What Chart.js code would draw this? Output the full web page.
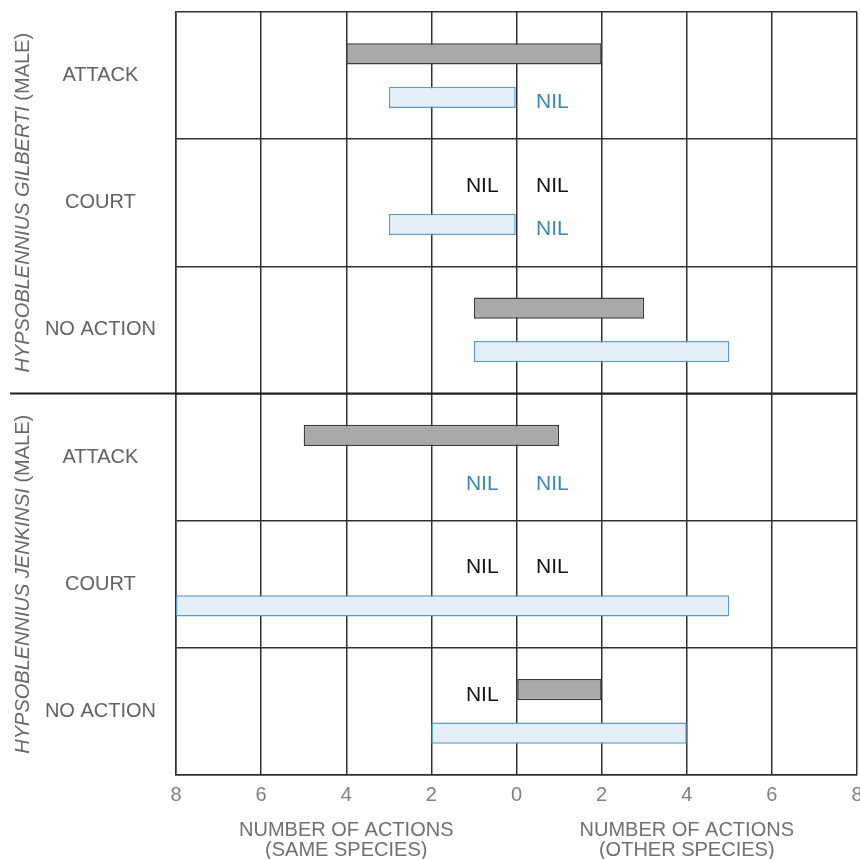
<!DOCTYPE html>
<html>
<head>
<meta charset="utf-8">
<script src="https://cdn.jsdelivr.net/npm/chart.js@4/dist/chart.umd.min.js"></script>
<style>
  html, body { margin: 0; padding: 0; background: #fff; }
  canvas { display: block; }
</style>
</head>
<body>
<canvas id="chart" width="860" height="859"></canvas>
<script>
// Behaviour rows, top to bottom (three per species)
const behaviours = ['ATTACK', 'COURT', 'NO ACTION', 'ATTACK', 'COURT', 'NO ACTION'];
const speciesNames = ['HYPSOBLENNIUS GILBERTI', 'HYPSOBLENNIUS JENKINSI'];
const sexLabel = '(MALE)';

// Grey bars: counts toward same species (left) and other species (right)
const darkSame  = [4, 0, 1, 5, 0, 0];
const darkOther = [2, 0, 3, 1, 0, 2];
// Blue bars
const lightSame  = [3, 3, 1, 0, 8, 2];
const lightOther = [0, 0, 5, 0, 5, 4];

const xMin = -8, xMax = 8, xStep = 2;
const axisTitles = [
  { at: -4, lines: ['NUMBER OF ACTIONS', '(SAME SPECIES)'] },
  { at: 4,  lines: ['NUMBER OF ACTIONS', '(OTHER SPECIES)'] }
];

const CAT_PCT = 0.682;
const BAR_PCT = 0.49;
const FONT = "'Liberation Sans', Arial, sans-serif";

const toRange = (same, other) => same.map((s, i) =>
  (s === 0 && other[i] === 0) ? null : [-s, other[i]]);

const series = [
  { same: darkSame,  other: darkOther,  fill: '#a9a9a9', border: '#3c3c3c', nil: '#111111' },
  { same: lightSame, other: lightOther, fill: '#e3eef8', border: '#5a9cc6', nil: '#3b87b2' }
];

// Fixed box sizes so the plot frame lands where intended
function fixY(scale) { scale.width = 176; scale.paddingTop = 0; scale.paddingBottom = 0; }
function fixX(scale) { scale.height = 84; scale.paddingLeft = 0; scale.paddingRight = 0; }

const annotations = {
  id: 'annotations',
  afterDatasetsDraw(chart) {
    const { ctx, scales: { x, y }, chartArea } = chart;
    ctx.save();

    // Heavy rule separating the two species
    const yDiv = y.getPixelForValue(2.5);
    ctx.strokeStyle = '#1e1e1e';
    ctx.lineWidth = 2.2;
    ctx.beginPath();
    ctx.moveTo(10, yDiv);
    ctx.lineTo(chartArea.right, yDiv);
    ctx.stroke();

    // "NIL" markers where a count is zero
    const step = y.getPixelForValue(1) - y.getPixelForValue(0);
    const off = step * CAT_PCT / 4;
    ctx.font = '21px ' + FONT;
    ctx.textBaseline = 'middle';
    series.forEach((s, d) => {
      s.same.forEach((v, i) => {
        const cy = y.getPixelForValue(i) + (d === 0 ? -off : off) + 5;
        ctx.fillStyle = s.nil;
        if (v === 0) {
          ctx.textAlign = 'right';
          ctx.fillText('NIL', x.getPixelForValue(-0.42), cy);
        }
        if (s.other[i] === 0) {
          ctx.textAlign = 'left';
          ctx.fillText('NIL', x.getPixelForValue(0.46), cy);
        }
      });
    });

    // Axis titles under each half
    ctx.fillStyle = '#707070';
    ctx.font = '20px ' + FONT;
    ctx.textAlign = 'center';
    axisTitles.forEach(t => {
      t.lines.forEach((line, k) => {
        ctx.fillText(line, x.getPixelForValue(t.at), 830 + k * 20);
      });
    });

    // Rotated species labels (italic name + upright sex)
    speciesNames.forEach((name, g) => {
      const cy = y.getPixelForValue(g * 3 + 1);
      ctx.save();
      ctx.translate(23, cy);
      ctx.rotate(-Math.PI / 2);
      ctx.textAlign = 'left';
      ctx.fillStyle = '#686868';
      ctx.font = 'italic 20px ' + FONT;
      const nameTxt = name + ' ';
      const w1 = ctx.measureText(nameTxt).width;
      ctx.font = '20px ' + FONT;
      const w2 = ctx.measureText(sexLabel).width;
      const start = -(w1 + w2) / 2;
      ctx.font = 'italic 20px ' + FONT;
      ctx.fillText(nameTxt, start, 0);
      ctx.font = '20px ' + FONT;
      ctx.fillText(sexLabel, start + w1, 0);
      ctx.restore();
    });

    ctx.restore();
  }
};

new Chart(document.getElementById('chart'), {
  type: 'bar',
  data: {
    labels: behaviours,
    datasets: series.map(s => ({
      data: toRange(s.same, s.other),
      backgroundColor: s.fill,
      borderColor: s.border,
      borderWidth: 1.5,
      borderSkipped: false,
      categoryPercentage: CAT_PCT,
      barPercentage: BAR_PCT
    }))
  },
  options: {
    indexAxis: 'y',
    responsive: false,
    animation: false,
    devicePixelRatio: 1,
    layout: { padding: { top: 12, right: 3, bottom: 0, left: 0 } },
    plugins: { legend: { display: false }, tooltip: { enabled: false } },
    scales: {
      x: {
        type: 'linear',
        min: xMin,
        max: xMax,
        afterFit: fixX,
        grid: { color: '#303030', lineWidth: 1.5, drawTicks: false },
        border: { color: '#303030', width: 1.5 },
        ticks: {
          stepSize: xStep,
          padding: 8,
          color: '#808080',
          font: { family: FONT, size: 20 },
          callback: v => Math.abs(v)
        }
      },
      y: {
        afterFit: fixY,
        grid: { color: '#303030', lineWidth: 1.5, drawTicks: false, offset: true },
        border: { color: '#303030', width: 1.5 },
        ticks: {
          crossAlign: 'center',
          padding: 20,
          color: '#626262',
          font: { family: FONT, size: 20 }
        }
      }
    }
  },
  plugins: [annotations]
});
</script>
</body>
</html>
